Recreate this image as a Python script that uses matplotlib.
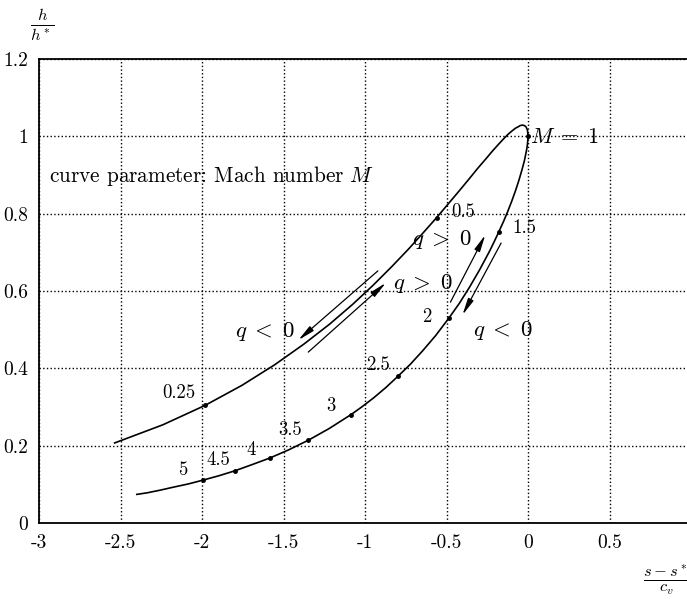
import numpy as np
import matplotlib
matplotlib.use("Agg")
import matplotlib.pyplot as plt

# Rayleigh-Kurve: (s-s*)/c_v und h/h*
# Unterschall-Ast (M = 0.2 ... 1)
sub_M = [0.2, 0.225, 0.25, 0.275, 0.3, 0.325, 0.35, 0.375, 0.4, 0.425, 0.45, 0.475, 0.5, 0.525,
         0.55, 0.575, 0.6, 0.625, 0.65, 0.675, 0.7, 0.725, 0.75, 0.775, 0.8, 0.82, 0.845, 0.87,
         0.9, 0.925, 0.95, 0.975, 1.0]
sub_x = [-2.536, -2.240, -1.982, -1.755, -1.555, -1.377, -1.218, -1.077, -0.950, -0.836, -0.734,
         -0.642, -0.560, -0.486, -0.420, -0.361, -0.309, -0.262, -0.220, -0.184, -0.151, -0.123,
         -0.098, -0.077, -0.059, -0.047, -0.034, -0.023, -0.013, -0.007, -0.003, -0.001, 0.0]
sub_y = [0.207, 0.254, 0.304, 0.356, 0.409, 0.462, 0.514, 0.565, 0.615, 0.663, 0.708, 0.751,
         0.790, 0.827, 0.860, 0.890, 0.917, 0.940, 0.961, 0.978, 0.993, 1.005, 1.014, 1.021,
         1.025, 1.028, 1.029, 1.028, 1.025, 1.020, 1.015, 1.008, 1.0]
# Ueberschall-Ast (M = 1 ... 6.2)
sup_M = [1.0, 1.025, 1.05, 1.075, 1.1, 1.15, 1.2, 1.25, 1.3, 1.35, 1.4, 1.45, 1.5, 1.55, 1.6,
         1.7, 1.8, 1.9, 2.0, 2.125, 2.25, 2.375, 2.5, 2.625, 2.75, 2.875, 3.0, 3.25, 3.5, 3.75,
         4.0, 4.25, 4.5, 4.75, 5.0, 5.25, 5.5, 5.75, 6.0, 6.2]
sup_x = [0.0, -0.001, -0.003, -0.006, -0.011, -0.022, -0.038, -0.056, -0.077, -0.100, -0.125,
         -0.151, -0.179, -0.208, -0.237, -0.298, -0.360, -0.423, -0.487, -0.566, -0.645, -0.723,
         -0.799, -0.873, -0.946, -1.017, -1.087, -1.221, -1.348, -1.469, -1.584, -1.693, -1.798,
         -1.898, -1.993, -2.084, -2.172, -2.256, -2.337, -2.400]
sup_y = [1.0, 0.991, 0.982, 0.971, 0.960, 0.937, 0.912, 0.886, 0.859, 0.832, 0.805, 0.779,
         0.753, 0.727, 0.702, 0.654, 0.609, 0.567, 0.529, 0.485, 0.446, 0.410, 0.379, 0.350,
         0.324, 0.301, 0.280, 0.244, 0.214, 0.189, 0.168, 0.151, 0.135, 0.122, 0.111, 0.101,
         0.093, 0.085, 0.078, 0.074]

# markierte Machzahlen und Lage der Beschriftung
mark_M = [0.25, 0.5, 1.0, 1.5, 2.0, 2.5, 3.0, 3.5, 4.0, 4.5, 5.0]
mark_lab = ["0.25", "0.5", "", "1.5", "2", "2.5", "3", "3.5", "4", "4.5", "5"]
lab_x = [-2.14, -0.40, 0, -0.02, -0.62, -0.92, -1.21, -1.46, -1.70, -1.90, -2.12]
lab_y = [0.336, 0.804, 0, 0.763, 0.533, 0.409, 0.303, 0.241, 0.189, 0.163, 0.137]

xticks = [-3, -2.5, -2, -1.5, -1, -0.5, 0, 0.5, 1]
yticks = [0, 0.2, 0.4, 0.6, 0.8, 1, 1.2]

plt.rcParams['font.family'] = 'cmr10'
plt.rcParams['mathtext.fontset'] = 'cm'
plt.rcParams['axes.unicode_minus'] = False
plt.rcParams['axes.formatter.use_mathtext'] = True

fig = plt.figure(figsize=(6.87, 5.99), dpi=100)
ax = fig.add_axes([39/687, 1-523/599, (691-39)/687, (523-59)/599])

ax.plot(sub_x, sub_y, 'k-', lw=1.2)
ax.plot(sup_x, sup_y, 'k-', lw=1.2)

# Punkte an den markierten Machzahlen
allM = sub_M + sup_M[1:]
allx = sub_x + sup_x[1:]
ally = sub_y + sup_y[1:]
for m, lab, tx, ty in zip(mark_M, mark_lab, lab_x, lab_y):
    i = allM.index(m)
    ax.plot(allx[i], ally[i], 'ko', ms=2.5)
    if lab:
        ax.text(tx, ty, lab, fontsize=13.5, ha='center', va='center')

ax.text(0.012, 0.998, r"$M\;=\;1$", fontsize=16, ha='left', va='center')
ax.text(-2.94, 0.897, "curve parameter: Mach number $M$", fontsize=15.3, ha='left', va='center')
ax.text(-0.71, 0.732, r"$q\;>\;0$", fontsize=16.5, ha='left', va='center')
ax.text(-0.83, 0.620, r"$q\;>\;0$", fontsize=16.5, ha='left', va='center')
ax.text(-1.80, 0.494, r"$q\;<\;0$", fontsize=16.5, ha='left', va='center')
ax.text(-0.34, 0.499, r"$q\;<\;0$", fontsize=16.5, ha='left', va='center')

# Pfeile fuer Waermezufuhr / -abfuhr
arrows = [((-0.921, 0.652), (-1.409, 0.473)),
          ((-1.348, 0.442), (-0.872, 0.621)),
          ((-0.476, 0.571), (-0.262, 0.745)),
          ((-0.165, 0.724), (-0.402, 0.538))]
for tail, head in arrows:
    ax.annotate('', xy=head, xytext=tail,
                arrowprops=dict(arrowstyle='-|>,head_length=1.0,head_width=0.18',
                                color='k', lw=0.9, shrinkA=0, shrinkB=0))

ax.set_xlim(-3, 1)
ax.set_ylim(0, 1.2)
ax.set_xticks(xticks)
ax.set_yticks(yticks)
ax.set_xticklabels(["%g" % v for v in xticks])
ax.set_yticklabels(["%g" % v for v in yticks])
ax.tick_params(length=0, labelsize=14, pad=8)
ax.grid(True, linestyle=':', color='k', lw=1.0)
for s in ax.spines.values():
    s.set_linewidth(1.3)

fig.text(42/687, 1-25/599, r"$\frac{h}{h^*}$", fontsize=17, ha='center', va='center')
fig.text(667/687, 1-580/599, r"$\frac{s-s^*}{c_v}$", fontsize=17, ha='center', va='center')

plt.savefig("out.png", dpi=100)
